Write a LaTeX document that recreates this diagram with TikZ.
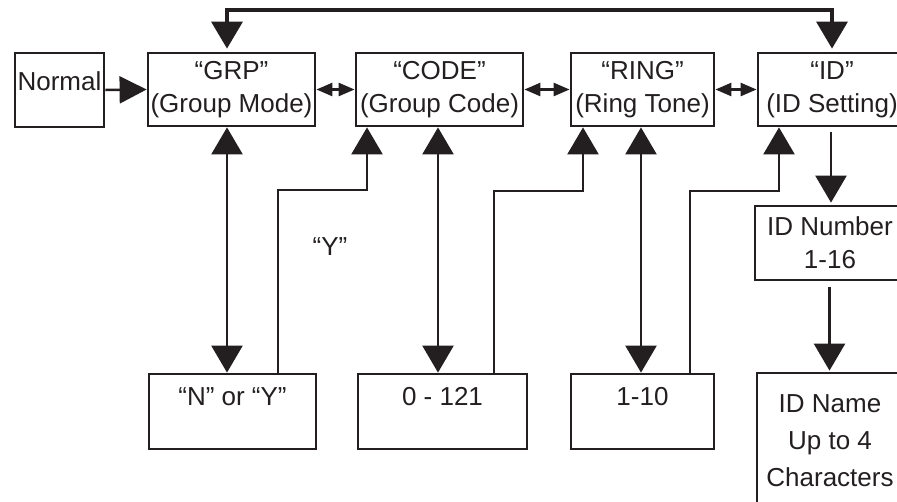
\documentclass[tikz,border=0pt]{standalone}
\usepackage{fontspec}
\setmainfont{Liberation Sans}
\usetikzlibrary{arrows.meta}
\definecolor{ink}{RGB}{35,31,32}
\begin{document}
\begin{tikzpicture}[x=1pt,y=-1pt,
  box/.style={draw=ink, line width=2.8pt, inner sep=0pt, align=center, text=ink,
    font=\fontsize{26}{33}\selectfont},
  onebox/.style={box, text height=19pt, text depth=32pt},
  link/.style={draw=ink, line width=2.5pt},
  bighead/.style={-{Triangle[width=31pt,length=27pt]}},
  bigboth/.style={{Triangle[width=31pt,length=27pt]}-{Triangle[width=31pt,length=27pt]}},
  smallboth/.style={{Triangle[width=13pt,length=16pt]}-{Triangle[width=13pt,length=16pt]}},
  lbl/.style={text=ink, font=\fontsize{26}{33}\selectfont, inner sep=0pt}
]
\clip (0,0) rectangle (897,501);
% top row
\node[box, minimum width=89pt, minimum height=74pt, text height=18pt, text depth=18pt] (normal) at (59.5,90) {Normal};
\node[box, minimum width=167pt, minimum height=73pt] (grp) at (231.5,89.5) {“GRP”\\(Group Mode)};
\node[box, minimum width=167pt, minimum height=73pt] (code) at (439.5,89.5) {“CODE”\\(Group Code)};
\node[box, minimum width=143pt, minimum height=73pt] (ring) at (642.5,89.5) {“RING”\\(Ring Tone)};
\node[box, minimum width=148pt, minimum height=73pt] (id) at (832,89.5) {“ID”\\(ID Setting)};
% bottom row
\node[onebox, minimum width=167pt, minimum height=75pt] (nory) at (232.5,411.5) {“N” or “Y”};
\node[onebox, minimum width=169pt, minimum height=75pt] (zero) at (442.5,411.5) {0 - 121};
\node[onebox, minimum width=143pt, minimum height=75pt] (oneten) at (642.5,411.5) {1-10};
% ID column
\node[box, minimum width=150pt, minimum height=74pt] (idnum) at (830,243) {ID Number\\1-16};
\node[box, minimum width=146pt, minimum height=136pt, font=\fontsize{26}{37}\selectfont] (idname) at (830,441) {ID Name\\Up to 4\\Characters};
\node[lbl, anchor=base] (ylab) at (330,255) {“Y”};

% coordinates
\coordinate (tl) at (227,10);
\coordinate (tr) at (832,10);
\coordinate (xg) at (227,0);
\coordinate (xc) at (438,0);
\coordinate (xr) at (641,0);
\coordinate (xi) at (831,0);
\coordinate (xj) at (829.5,0);
\coordinate (e1a) at (278,190);
\coordinate (e1b) at (367,190);
\coordinate (e2a) at (494,191);
\coordinate (e2b) at (583,191);
\coordinate (e3a) at (690,191);
\coordinate (e3b) at (779,191);

% connectors
\draw[link, -{Triangle[width=27pt,length=27pt]}] (normal.east) -- (grp.west);
\draw[link, smallboth] (grp.east) -- (code.west);
\draw[link, smallboth] (code.east) -- (ring.west);
\draw[link, smallboth] (ring.east) -- (id.west);
\draw[link, line width=3.5pt, bigboth, shorten <=3pt, shorten >=3pt, line join=miter] (tl |- grp.north) -- (tl) -- (tr) -- (id.north);
\draw[link, bigboth] (xg |- grp.south) -- (xg |- nory.north);
\draw[link, bigboth] (xc |- code.south) -- (xc |- zero.north);
\draw[link, bigboth] (xr |- ring.south) -- (xr |- oneten.north);
\draw[link, bighead, line join=miter] (e1a |- nory.north) -- (e1a) -- (e1b) -- (e1b |- code.south);
\draw[link, bighead, line join=miter] (e2a |- zero.north) -- (e2a) -- (e2b) -- (e2b |- ring.south);
\draw[link, bighead, line join=miter] (e3a |- oneten.north) -- (e3a) -- (e3b) -- (e3b |- id.south);
\draw[link, bighead, shorten <=5pt, shorten >=2pt] (xi |- id.south) -- (xi |- idnum.north);
\draw[link, bighead, shorten <=6pt, shorten >=1pt] (xj |- idnum.south) -- (xj |- idname.north);
\end{tikzpicture}
\end{document}
